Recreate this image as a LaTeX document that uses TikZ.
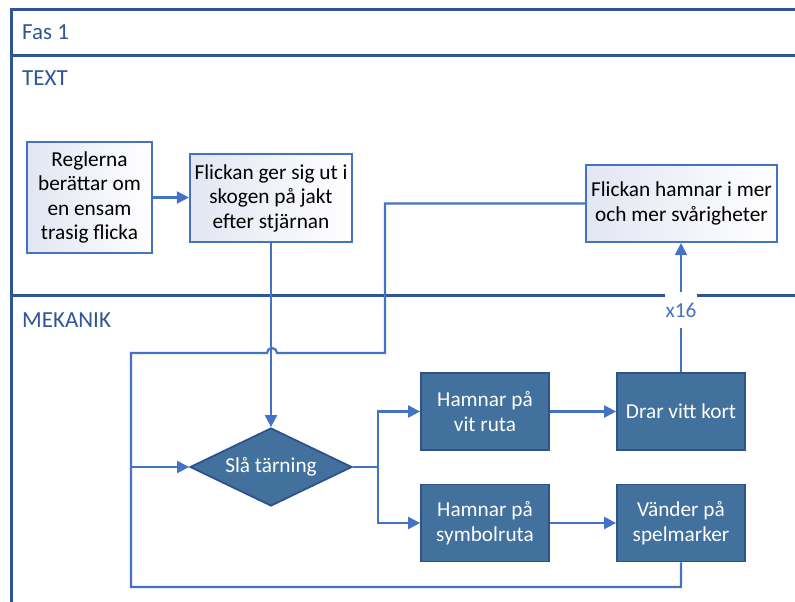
\documentclass[tikz,border=0pt]{standalone}
\usepackage{fontspec}
\setmainfont{Carlito}
\usetikzlibrary{shapes.geometric,arrows.meta}
\definecolor{frameblue}{HTML}{2F5597}
\definecolor{lineblue}{HTML}{4472C4}
\definecolor{darkfill}{HTML}{41719C}
\definecolor{darkedge}{HTML}{2F528F}
\definecolor{lightfill}{HTML}{E2E6F3}
\tikzset{
  lanelabel/.style={anchor=west, text=frameblue, font=\fontsize{23}{27}\selectfont, inner sep=0pt},
  lightbox/.style={draw=lineblue, line width=2.2pt, left color=lightfill, right color=white,
     align=center, font=\fontsize{21.3}{24.5}\selectfont, inner sep=0pt, text=black},
  darkbox/.style={draw=darkedge, line width=1.8pt, fill=darkfill, text=white,
     align=center, font=\fontsize{21.3}{24.5}\selectfont, inner sep=0pt,
     minimum width=128pt, minimum height=77pt},
  conn/.style={draw=lineblue, line width=2.2pt, -{Triangle[length=12pt,width=12pt]}},
  plainconn/.style={draw=lineblue, line width=2.2pt},
}
\begin{document}
\begin{tikzpicture}[x=1pt,y=1pt]
\useasboundingbox (0,0) rectangle (795,-602);
% frame
\draw[frameblue, line width=3pt] (11,-602) -- (11,-9.5) -- (795,-9.5);
\draw[frameblue, line width=3pt] (11,-56) -- (795,-56);
\draw[frameblue, line width=3pt] (11,-295) -- (795,-295);
\node[lanelabel] (fas) at (22,-32) {Fas 1};
\node[lanelabel] (txt) at (22,-78) {TEXT};
\node[lanelabel] (mek) at (22,-320) {MEKANIK};
% text lane boxes
\node[lightbox, minimum width=125pt, minimum height=111pt] (b1) at (89.5,-197.5)
  {Reglerna\\berättar om\\en ensam\\trasig flicka};
\node[lightbox, minimum width=162pt, minimum height=88pt] (b2) at (271,-198)
  {Flickan ger sig ut i\\skogen på jakt\\efter stjärnan};
\node[lightbox, minimum width=191pt, minimum height=77pt] (b3) at (681.5,-203.5)
  {Flickan hamnar i mer\\och mer svårigheter};
% mechanics
\node[diamond, aspect=2, draw=darkedge, line width=1.8pt, fill=darkfill, text=white,
  inner sep=0pt, minimum width=162pt, minimum height=78pt,
  font=\fontsize{21.3}{24.5}\selectfont] (d) at (271,-467) {Slå tärning};
\node[darkbox] (a) at (485,-411.5) {Hamnar på\\vit ruta};
\node[darkbox] (k) at (681,-411.5) {Drar vitt kort};
\node[darkbox] (s) at (485,-523) {Hamnar på\\symbolruta};
\node[darkbox] (v) at (681,-523) {Vänder på\\spelmarker};
% corner coordinates
\coordinate (c1) at (385,-203.5);
\coordinate (c2) at (385,-353);
\coordinate (hr) at (277,-353);
\coordinate (c3) at (131,-353);
\coordinate (c4) at (131,-587);
\coordinate (c5) at (681,-587);
\coordinate (fork) at (378,-467);
% connectors
\draw[conn] (b1.east) -- (b1.east -| b2.west);
\draw[conn] (b2.south) -- (d.north);
\draw[plainconn] (b3.west) -- (c1) -- (c2) -- (hr) arc[start angle=0, end angle=180, radius=5pt] -- (c3) -- (c4) -- (c5) -- (v.south);
\draw[conn] (d.west -| c3) -- (d.west);
\draw[plainconn] (d.east) -- (fork);
\draw[conn] (fork) |- (a.west);
\draw[conn] (fork) |- (s.west);
\draw[conn] (a.east) -- (k.west);
\draw[conn] (s.east) -- (v.west);
\draw[conn] (k.north) -- (b3.south -| k.north) node[pos=0.48, fill=white, text=lineblue, inner xsep=1pt, inner ysep=0pt, minimum height=36pt, font=\fontsize{21.3}{24}\selectfont] (x16) {x16};
\end{tikzpicture}
\end{document}
